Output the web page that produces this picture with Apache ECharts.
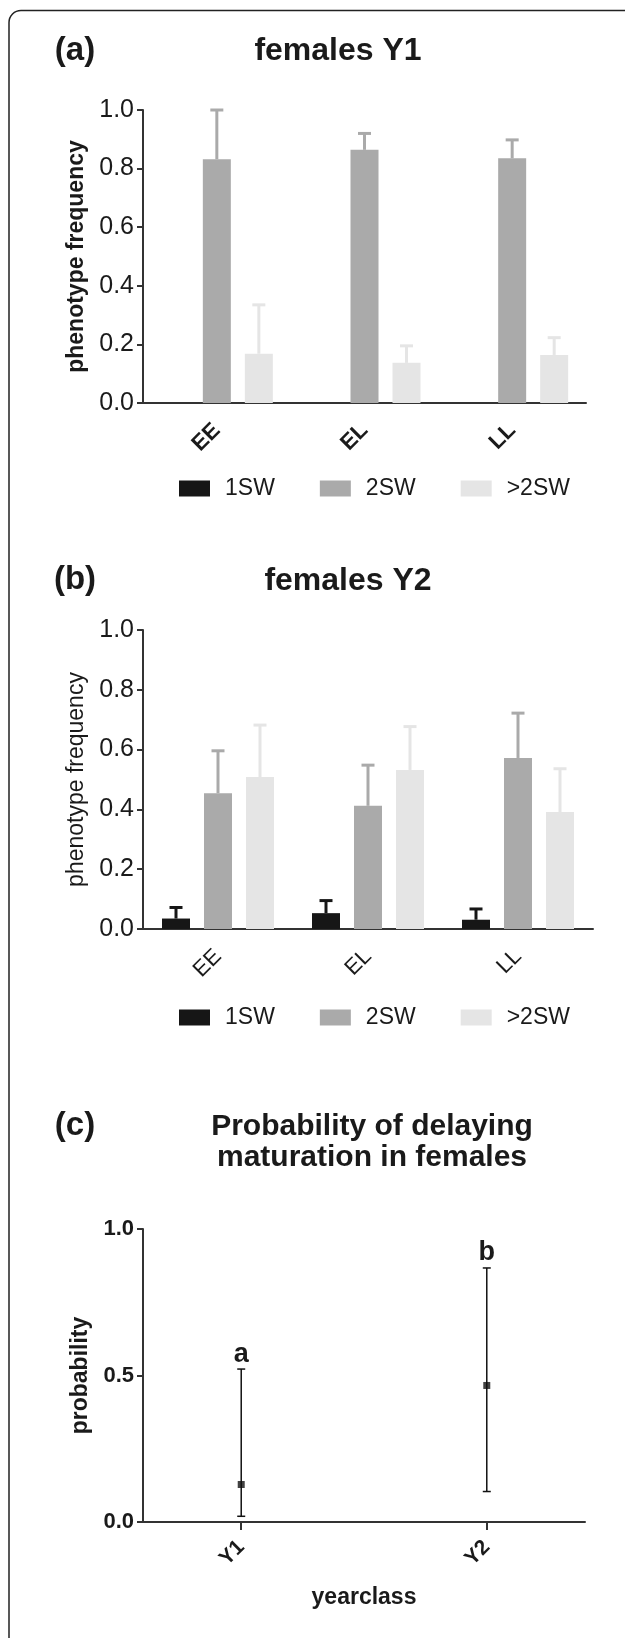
<!DOCTYPE html>
<html>
<head>
<meta charset="utf-8">
<script src="https://cdn.jsdelivr.net/npm/echarts@6/dist/echarts.min.js"></script>
<style>
  html, body { margin: 0; padding: 0; background: #fff; }
  #chart { width: 625px; height: 1638px; }
</style>
</head>
<body>
<div id="chart"></div>
<script>
// genotype groups and phenotypes
var groups = ['EE', 'EL', 'LL']
var phenotypes = ['1SW', '2SW', '>2SW']

// (a) females Y1 : mean and upper end of the error bar
var y1Sw1 = [0, 0, 0]
var y1Sw1Up = [0, 0, 0]
var y1Sw2 = [0.832, 0.864, 0.835]
var y1Sw2Up = [1.0, 0.920, 0.898]
var y1Sw3 = [0.168, 0.137, 0.164]
var y1Sw3Up = [0.335, 0.195, 0.223]

// (b) females Y2
var y2Sw1 = [0.035, 0.053, 0.031]
var y2Sw1Up = [0.072, 0.095, 0.067]
var y2Sw2 = [0.454, 0.412, 0.572]
var y2Sw2Up = [0.596, 0.548, 0.722]
var y2Sw3 = [0.508, 0.532, 0.391]
var y2Sw3Up = [0.682, 0.677, 0.536]

// (c) probability of delaying maturation
var yearclasses = ['Y1', 'Y2']
var probMean = [0.128, 0.466]
var probLow = [0.0195, 0.104]
var probHigh = [0.522, 0.867]
var sigLetters = ['a', 'b']

var freqTicks = [0, 0.2, 0.4, 0.6, 0.8, 1.0]
var probTicks = [0, 0.5, 1.0]

var colors = ['#161616', '#aaaaaa', '#e5e5e5']
var axisColor = '#333'
var font = '"Liberation Sans", Arial, Helvetica, sans-serif'

var chart = echarts.init(document.getElementById('chart'))

function barOffset(k) {
  return (k - 1) * 42
}

function errorBars(name, gridIdx, k, means, ups) {
  return {
    type: 'custom',
    name: name + ' err',
    xAxisIndex: gridIdx,
    yAxisIndex: gridIdx,
    z: 5,
    data: means.map(function (m, i) { return [i, m, ups[i]] }),
    encode: { x: 0, y: [1, 2] },
    renderItem: function (params, api) {
      var v = api.value(1)
      var top = api.value(2)
      if (!(top > v)) return null
      var p0 = api.coord([api.value(0), v])
      var p1 = api.coord([api.value(0), top])
      var x = p0[0] + barOffset(k)
      var st = { stroke: colors[k], lineWidth: 3 }
      return {
        type: 'group',
        children: [
          { type: 'line', shape: { x1: x, y1: p0[1], x2: x, y2: p1[1] }, style: st },
          { type: 'line', shape: { x1: x - 6.5, y1: p1[1], x2: x + 6.5, y2: p1[1] }, style: st }
        ]
      }
    }
  }
}

function barSeries(gridIdx, k, vals) {
  return {
    type: 'bar',
    name: phenotypes[k],
    xAxisIndex: gridIdx,
    yAxisIndex: gridIdx,
    data: vals,
    barWidth: 28,
    barGap: '50%',
    itemStyle: { color: colors[k] }
  }
}

function catAxis(gridIdx, bold) {
  return {
    type: 'category',
    gridIndex: gridIdx,
    data: groups,
    axisLine: { lineStyle: { color: axisColor, width: 2 } },
    axisTick: { alignWithLabel: true, length: 8, lineStyle: { color: axisColor, width: 2 } },
    axisLabel: {
      rotate: 45, margin: 24, fontSize: 22, color: '#1a1a1a',
      fontWeight: bold ? 'bold' : 'normal', fontFamily: font
    }
  }
}

function freqAxis(gridIdx, bold) {
  return {
    type: 'value',
    gridIndex: gridIdx,
    min: freqTicks[0],
    max: freqTicks[freqTicks.length - 1],
    interval: 0.2,
    name: 'phenotype frequency',
    nameLocation: 'middle',
    nameGap: 52,
    nameTextStyle: {
      fontSize: 23, color: '#1a1a1a', fontFamily: font,
      fontWeight: bold ? 'bold' : 'normal'
    },
    splitLine: { show: false },
    axisLine: { show: true, lineStyle: { color: axisColor, width: 2 } },
    axisTick: { show: true, length: 6, lineStyle: { color: axisColor, width: 2 } },
    axisLabel: {
      fontSize: 25, color: '#1a1a1a', margin: 9, fontFamily: font,
      formatter: function (v) { return v.toFixed(1) }
    }
  }
}

function legendFor(top) {
  return {
    top: top,
    left: 174,
    data: phenotypes,
    icon: 'rect',
    itemWidth: 31,
    itemHeight: 16,
    itemGap: 45,
    selectedMode: false,
    textStyle: { fontSize: 23, color: '#1a1a1a', fontFamily: font, padding: [0, 0, 0, 10] }
  }
}

function title(text, x, y, size, extra) {
  var t = {
    text: text,
    left: x,
    top: y,
    textAlign: 'center',
    textVerticalAlign: 'middle',
    textStyle: { fontSize: size, fontWeight: 'bold', color: '#1a1a1a', fontFamily: font }
  }
  if (extra) Object.assign(t.textStyle, extra)
  return t
}

var option = {
  animation: false,
  backgroundColor: '#fff',
  textStyle: { fontFamily: font },
  title: [
    title('(a)', 70, 46, 33),
    title('females Y1', 333, 46, 32),
    title('(b)', 70, 575, 33),
    title('females Y2', 343, 576, 32),
    title('(c)', 70, 1121, 33),
    title('Probability of delaying\nmaturation in females', 367, 1137, 30, { lineHeight: 31 })
  ],
  legend: [legendFor(472), legendFor(1001)],
  grid: [
    { left: 143, top: 110, width: 443, height: 293 },
    { left: 143, top: 630, width: 450, height: 299 },
    { left: 143, top: 1229, width: 442, height: 293 }
  ],
  xAxis: [
    catAxis(0, true),
    catAxis(1, false),
    {
      type: 'value',
      gridIndex: 2,
      min: 0.6,
      max: 2.4,
      name: 'yearclass',
      nameLocation: 'middle',
      nameGap: 64,
      nameTextStyle: { fontSize: 23, fontWeight: 'bold', color: '#1a1a1a', fontFamily: font },
      splitLine: { show: false },
      axisLine: { lineStyle: { color: axisColor, width: 2 } },
      axisTick: { customValues: [1, 2], length: 8, lineStyle: { color: axisColor, width: 2 } },
      axisLabel: {
        customValues: [1, 2], rotate: 45, margin: 22, fontSize: 21,
        fontWeight: 'bold', color: '#1a1a1a', fontFamily: font,
        formatter: function (v) { return yearclasses[Math.round(v) - 1] }
      }
    }
  ],
  yAxis: [
    freqAxis(0, true),
    freqAxis(1, false),
    {
      type: 'value',
      gridIndex: 2,
      min: probTicks[0],
      max: probTicks[probTicks.length - 1],
      interval: 0.5,
      name: 'probability',
      nameLocation: 'middle',
      nameGap: 48,
      nameTextStyle: { fontSize: 23, fontWeight: 'bold', color: '#1a1a1a', fontFamily: font },
      splitLine: { show: false },
      axisLine: { show: true, lineStyle: { color: axisColor, width: 2 } },
      axisTick: { show: true, length: 6, lineStyle: { color: axisColor, width: 2 } },
      axisLabel: {
        fontSize: 22, fontWeight: 'bold', color: '#1a1a1a', margin: 9, fontFamily: font,
        formatter: function (v) { return v.toFixed(1) }
      }
    }
  ],
  graphic: [
    {
      type: 'rect',
      silent: true,
      shape: { x: 9, y: 10.5, width: 900, height: 1900, r: 12 },
      style: { fill: null, stroke: '#222', lineWidth: 1.5 }
    }
  ],
  series: [
    barSeries(0, 0, y1Sw1),
    barSeries(0, 1, y1Sw2),
    barSeries(0, 2, y1Sw3),
    errorBars('1SW', 0, 0, y1Sw1, y1Sw1Up),
    errorBars('2SW', 0, 1, y1Sw2, y1Sw2Up),
    errorBars('>2SW', 0, 2, y1Sw3, y1Sw3Up),
    barSeries(1, 0, y2Sw1),
    barSeries(1, 1, y2Sw2),
    barSeries(1, 2, y2Sw3),
    errorBars('1SW', 1, 0, y2Sw1, y2Sw1Up),
    errorBars('2SW', 1, 1, y2Sw2, y2Sw2Up),
    errorBars('>2SW', 1, 2, y2Sw3, y2Sw3Up),
    {
      type: 'custom',
      name: 'probability range',
      xAxisIndex: 2,
      yAxisIndex: 2,
      data: yearclasses.map(function (y, i) { return [i + 1, probLow[i], probHigh[i]] }),
      encode: { x: 0, y: [1, 2] },
      renderItem: function (params, api) {
        var lo = api.coord([api.value(0), api.value(1)])
        var hi = api.coord([api.value(0), api.value(2)])
        var x = lo[0]
        var st = { stroke: '#111', lineWidth: 1.5 }
        return {
          type: 'group',
          children: [
            { type: 'line', shape: { x1: x, y1: lo[1], x2: x, y2: hi[1] }, style: st },
            { type: 'line', shape: { x1: x - 4, y1: lo[1], x2: x + 4, y2: lo[1] }, style: st },
            { type: 'line', shape: { x1: x - 4, y1: hi[1], x2: x + 4, y2: hi[1] }, style: st },
            {
              type: 'text',
              style: {
                x: x, y: hi[1] - 15, text: sigLetters[params.dataIndex],
                align: 'center', verticalAlign: 'middle',
                fontSize: 27, fontWeight: 'bold', fill: '#1a1a1a', fontFamily: font
              }
            }
          ]
        }
      }
    },
    {
      type: 'scatter',
      name: 'probability',
      xAxisIndex: 2,
      yAxisIndex: 2,
      z: 5,
      symbol: 'rect',
      symbolSize: 7,
      itemStyle: { color: '#111' },
      data: yearclasses.map(function (y, i) { return [i + 1, probMean[i]] })
    }
  ]
}

chart.setOption(option, true)
</script>
</body>
</html>
